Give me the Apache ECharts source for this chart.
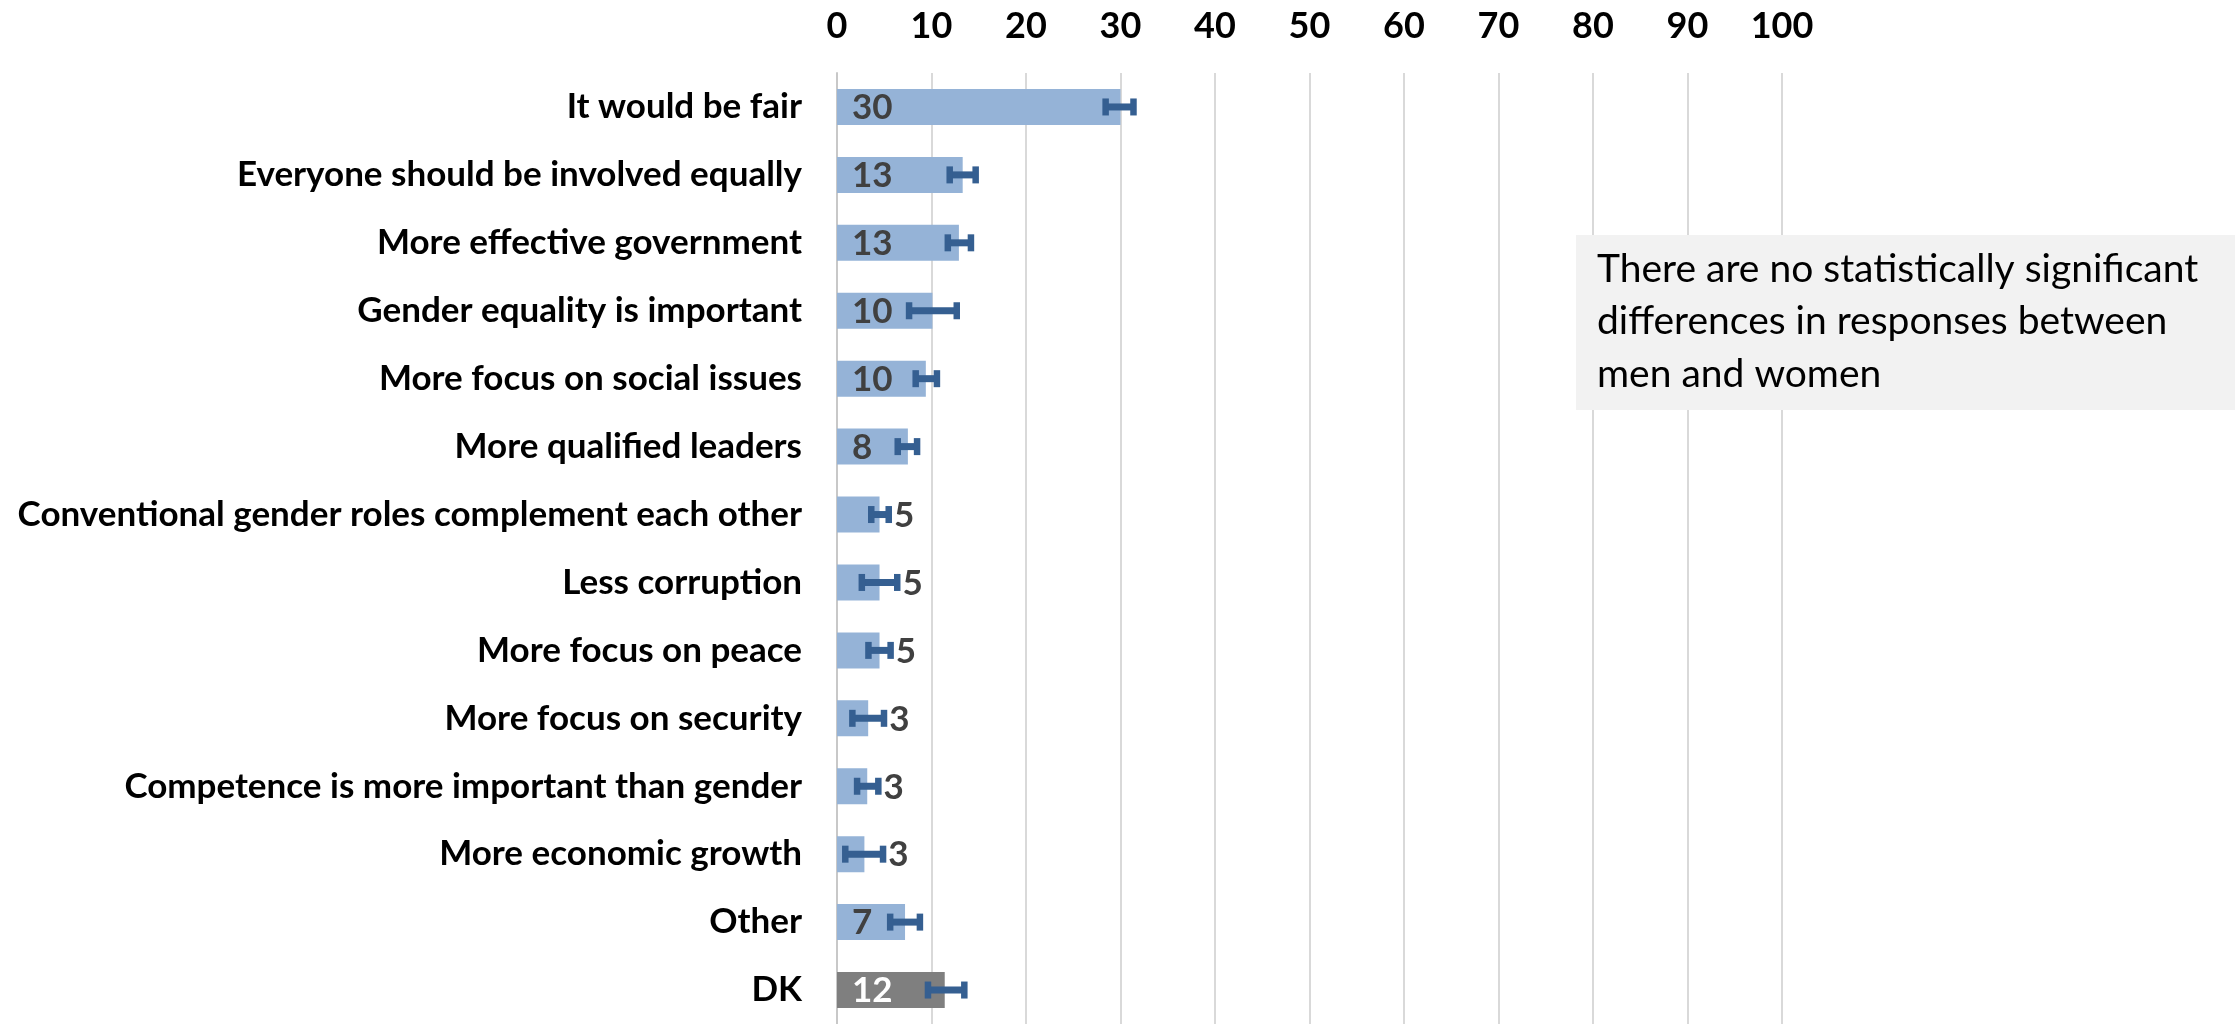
<!DOCTYPE html>
<html>
<head>
<meta charset="utf-8">
<script src="https://cdn.jsdelivr.net/npm/echarts@6/dist/echarts.min.js"></script>
<style>
html,body{margin:0;padding:0;background:#fff;}
#chart{width:2235px;height:1024px;}
</style>
</head>
<body>
<div id="chart"></div>
<script>
const categories = [
  'It would be fair',
  'Everyone should be involved equally',
  'More effective government',
  'Gender equality is important',
  'More focus on social issues',
  'More qualified leaders',
  'Conventional gender roles complement each other',
  'Less corruption',
  'More focus on peace',
  'More focus on security',
  'Competence is more important than gender',
  'More economic growth',
  'Other',
  'DK'
];
const values  = [30, 13.3, 12.9, 10.1, 9.4, 7.5, 4.5, 4.5, 4.5, 3.3, 3.2, 2.9, 7.2, 11.4];
const errLow  = [28.4, 11.9, 11.7, 7.6, 8.3, 6.4, 3.6, 2.6, 3.3, 1.6, 2.1, 0.85, 5.6, 9.6];
const errHigh = [31.4, 14.7, 14.2, 12.7, 10.6, 8.5, 5.5, 6.4, 5.7, 5.0, 4.4, 4.9, 8.8, 13.5];
const labels  = ['30', '13', '13', '10', '10', '8', '5', '5', '5', '3', '3', '3', '7', '12'];
const note = 'There are no statistically significant\ndifferences in responses between\nmen and women';

const FONT = 'Lato, "Open Sans", sans-serif';
const BLUE = '#95b3d7', GRAY = '#7f7f7f', ERR = '#355f91', LBL = '#404040';

const chart = echarts.init(document.getElementById('chart'), null, {renderer: 'canvas'});

const errData = categories.map((c, i) => [i, errLow[i], errHigh[i], values[i]]);

chart.setOption({
  animation: false,
  backgroundColor: '#ffffff',
  grid: {left: 837, top: 73, width: 945, height: 955, containLabel: false},
  xAxis: {
    type: 'value', position: 'top', min: 0, max: 100, interval: 10,
    axisLine: {show: false}, axisTick: {show: false},
    splitLine: {show: true, lineStyle: {color: '#d9d9d9', width: 2}},
    axisLabel: {margin: 47, verticalAlign: 'middle', fontFamily: FONT, fontWeight: 'bold', fontSize: 36, color: '#000'}
  },
  yAxis: {
    type: 'category', data: categories, inverse: true,
    axisLine: {show: true, lineStyle: {color: '#c8c8c8', width: 2}},
    axisTick: {show: false},
    axisLabel: {margin: 35, fontFamily: FONT, fontWeight: 'bold', fontSize: 35, color: '#000'}
  },
  series: [
    {
      type: 'bar', data: values, barWidth: 36,
      itemStyle: {color: p => p.name === 'DK' ? GRAY : BLUE},
      z: 2
    },
    {
      type: 'custom', data: errData, z: 5,
      encode: {y: 0, x: [1, 2]},
      renderItem: function (params, api) {
        const i = api.value(0);
        const lo = api.coord([api.value(1), i]);
        const hi = api.coord([api.value(2), i]);
        const zero = api.coord([0, i]);
        const y = lo[1];
        const children = [
          {type: 'rect', shape: {x: lo[0], y: y - 3.5, width: hi[0] - lo[0], height: 7}, style: {fill: ERR}},
          {type: 'rect', shape: {x: lo[0] - 3, y: y - 8.5, width: 6.5, height: 17}, style: {fill: ERR}},
          {type: 'rect', shape: {x: hi[0] - 3.5, y: y - 8.5, width: 6.5, height: 17}, style: {fill: ERR}}
        ];
        const inside = api.value(3) >= 6;
        const isDK = categories[i] === 'DK';
        children.push({
          type: 'text',
          style: {
            text: labels[i],
            x: inside ? zero[0] + 15 : hi[0] + 5,
            y: y + 1,
            align: 'left', verticalAlign: 'middle',
            fontFamily: FONT, fontWeight: 'bold', fontSize: 35,
            fill: isDK ? '#ffffff' : LBL
          }
        });
        return {type: 'group', children: children};
      }
    }
  ],
  graphic: [
    {
      type: 'group', left: 1576, top: 235, z: 100,
      children: [
        {type: 'rect', z: 100, shape: {x: 0, y: 0, width: 659, height: 175}, style: {fill: '#f2f2f2'}},
        {type: 'text', z: 101, x: 21, y: 8, style: {text: note, fontFamily: FONT, fontSize: 39, lineHeight: 52.5, fill: '#000', verticalAlign: 'top'}}
      ]
    }
  ]
});
</script>
</body>
</html>
